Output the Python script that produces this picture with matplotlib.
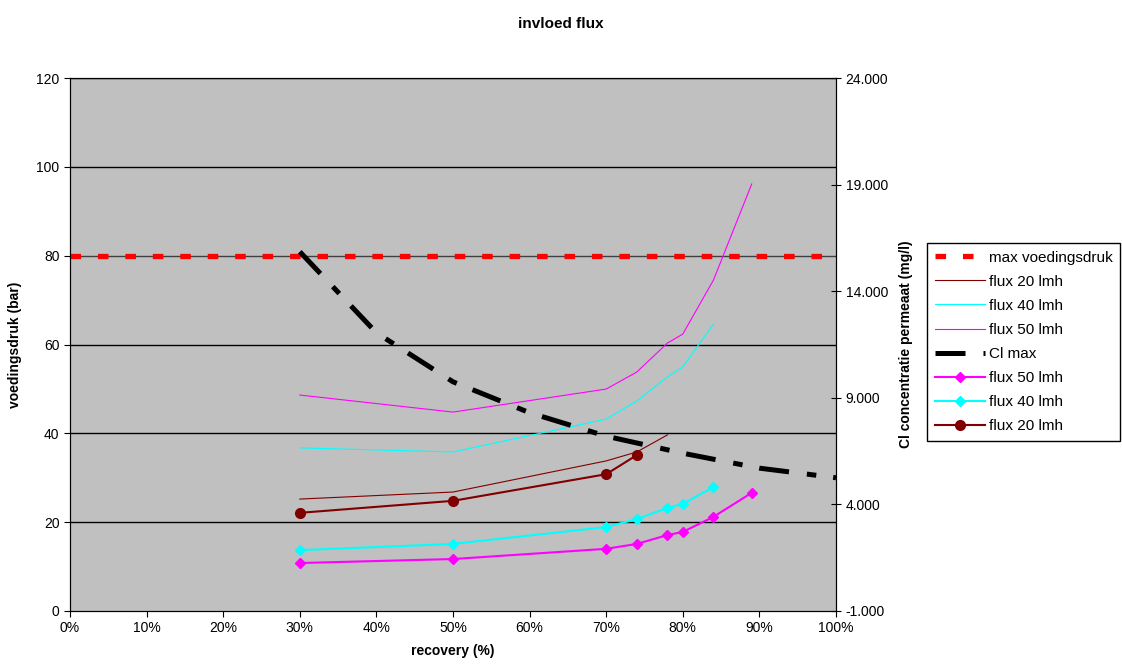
import matplotlib
matplotlib.use("Agg")
import matplotlib.pyplot as plt
from matplotlib.ticker import FuncFormatter, MultipleLocator

plt.rcParams['font.family'] = ['Liberation Sans', 'DejaVu Sans']

# recovery (%) per meetpunt
rec_50 = [30, 50, 70, 74, 78, 80, 84, 89]
rec_40 = [30, 50, 70, 74, 78, 80, 84]
rec_20 = [30, 50, 70, 74, 78]
rec_20_druk = [30, 50, 70, 74]
rec_cl = [30, 40, 50, 60, 70, 80, 90, 100]

# Cl concentratie permeaat (mg/l)
cl_50 = [9130, 8330, 9410, 10210, 11570, 11990, 14520, 19030]
cl_40 = [6650, 6460, 8000, 8850, 9980, 10450, 12460]
cl_20 = [4250, 4580, 6040, 6460, 7260]
cl_max = [15850, 12050, 9750, 8300, 7200, 6400, 5700, 5250]

# voedingsdruk (bar)
druk_50 = [10.8, 11.7, 14.0, 15.1, 17.1, 17.8, 21.2, 26.6]
druk_40 = [13.7, 15.1, 18.9, 20.7, 23.2, 24.1, 27.9]
druk_20 = [22.1, 24.8, 30.8, 35.1]
max_druk = 80


def nl_getal(v, pos):
    # 24000 -> "24.000"
    s = '{:,.0f}'.format(abs(v)).replace(',', '.')
    if '.' not in s:
        s = s + '.000' if v != 0 else '0'
    return ('-' if v < 0 else '') + s


fig = plt.figure(figsize=(11.22, 6.69), dpi=100)
ax = fig.add_axes([70/1122, 58/669, 766/1122, 533/669])
ax.set_facecolor('#c0c0c0')
ax2 = ax.twinx()

ax.set_xlim(0, 100)
ax.set_ylim(0, 120)
ax2.set_ylim(-1000, 24000)

ax.yaxis.set_major_locator(MultipleLocator(20))
ax.xaxis.set_major_locator(MultipleLocator(10))
ax.xaxis.set_major_formatter(FuncFormatter(lambda v, p: '%d%%' % v))
ax2.set_yticks([-1000, 4000, 9000, 14000, 19000, 24000])
ax2.yaxis.set_major_formatter(FuncFormatter(nl_getal))

for y in range(20, 121, 20):
    ax.axhline(y, color='black' if y != 80 else '#404040', lw=1.0, zorder=1)

h_max = ax.axhline(max_druk, color='#ff0000', lw=3.8, linestyle=(0, (2.0, 3.2)),
                   zorder=3, label='max voedingsdruk')

h_d50, = ax.plot(rec_50, druk_50, color='#ff00ff', lw=1.5, marker='D', ms=5.5,
                 label='flux 50 lmh', zorder=4)
h_d40, = ax.plot(rec_40, druk_40, color='#00ffff', lw=1.5, marker='D', ms=5.5,
                 label='flux 40 lmh', zorder=4)
h_d20, = ax.plot(rec_20_druk, druk_20, color='#800000', lw=1.5, marker='o', ms=7,
                 label='flux 20 lmh', zorder=4)

h_t20, = ax2.plot(rec_20, cl_20, color='#800000', lw=0.8, label='flux 20 lmh')
h_t40, = ax2.plot(rec_40, cl_40, color='#00ffff', lw=0.8, label='flux 40 lmh')
h_t50, = ax2.plot(rec_50, cl_50, color='#ff00ff', lw=0.8, label='flux 50 lmh')
h_cl, = ax2.plot(rec_cl, cl_max, color='black', lw=3.6,
                 linestyle=(0, (6, 3.6, 1.9, 3.4)), label='Cl max')

ax.tick_params(axis='both', labelsize=10, direction='out', length=4, color='black')
ax2.tick_params(axis='y', labelsize=10, direction='inout', length=7, color='black')

ax.set_xlabel('recovery (%)', fontsize=10, fontweight='bold', labelpad=6)
ax.set_ylabel('voedingsdruk (bar)', fontsize=10, fontweight='bold', labelpad=10)
ax2.set_ylabel('Cl concentratie permeaat (mg/l)', fontsize=10, fontweight='bold', labelpad=8)
fig.suptitle('invloed flux', fontsize=11, fontweight='bold', x=0.5, y=0.975)

handles = [h_max, h_t20, h_t40, h_t50, h_cl, h_d50, h_d40, h_d20]
leg = fig.legend(handles=handles, labels=[h.get_label() for h in handles],
                 loc='upper left', bbox_to_anchor=(927/1122, 1 - 243/669),
                 fontsize=11, frameon=True, fancybox=False, framealpha=1,
                 edgecolor='black', handlelength=3.3, borderaxespad=0,
                 labelspacing=0.66, handletextpad=0.25, borderpad=0.5)
leg.get_frame().set_linewidth(1.0)

fig.savefig('out.png', dpi=100)
